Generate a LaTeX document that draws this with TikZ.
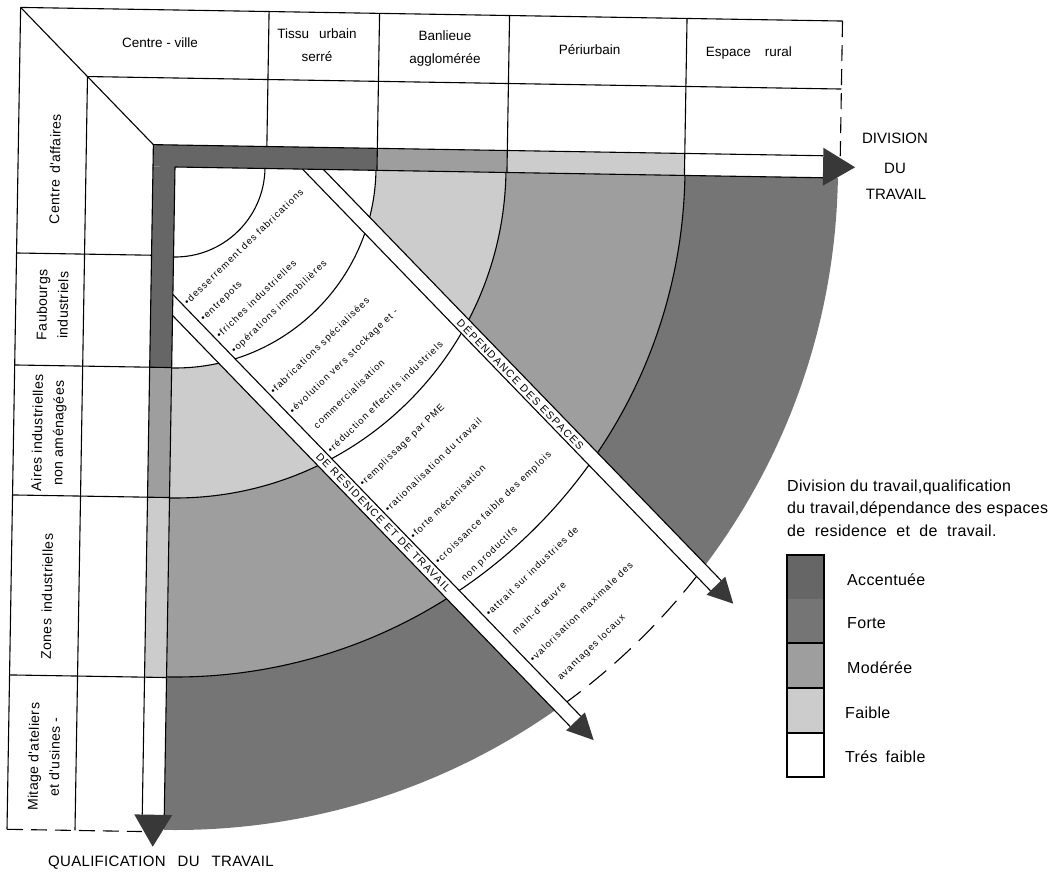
\documentclass[tikz,border=0pt]{standalone}
\usepackage{fontspec}
\setmainfont{Liberation Sans}
\newfontfamily\sidefont[LetterSpace=3]{Liberation Sans}
\newfontfamily\bulfont[LetterSpace=12]{Liberation Sans}
\newfontfamily\capfont[LetterSpace=14]{Liberation Sans}
\newfontfamily\lgfont[LetterSpace=2]{Liberation Sans}
\definecolor{acc}{gray}{0.40}
\definecolor{frt}{gray}{0.46}
\definecolor{mod}{gray}{0.62}
\definecolor{fai}{gray}{0.80}
\definecolor{arr}{gray}{0.22}
\begin{document}
\begin{tikzpicture}[x=1pt,y=-1pt,
  ln/.style={line width=1.1pt},
  dfr/.style={line width=1.1pt,dash pattern=on 16pt off 8pt},
  hdr/.style={font=\fontsize{13.5}{23}\selectfont,inner sep=0pt,align=center},
  sidelbl/.style={font=\sidefont\fontsize{14}{21}\selectfont,inner sep=0pt,align=center,rotate=89.05},
  bul/.style={font=\bulfont\fontsize{9.5}{11}\selectfont,inner sep=0pt,anchor=west,rotate=44.05},
  striplbl/.style={font=\capfont\fontsize{10.5}{12}\selectfont,inner sep=0pt,rotate=-45.95},
  outlbl/.style={font=\fontsize{15}{17}\selectfont,inner sep=0pt},
  lg/.style={font=\lgfont\fontsize{16}{18}\selectfont,inner sep=0pt,anchor=west},
  arrowfill/.style={fill=arr}
]
\useasboundingbox (0,0) rectangle (1051,875);
\fill[white] (0,0) rectangle (1051,875);

\begin{scope}[shift={(175,167)},rotate=-0.95]
  % upper side rings
  \begin{scope}
    \clip (148.5,0) -- (950,0) -- (950,801.5) -- cycle;
    \fill[frt] (0,0) circle[radius=663];
    \fill[mod] (0,0) circle[radius=510];
    \fill[fai] (0,0) circle[radius=331];
    \fill[white] (0,0) circle[radius=201];
    \draw[ln] (0,0) circle[radius=201] (0,0) circle[radius=331] (0,0) circle[radius=510];
  \end{scope}
  % lower side rings
  \begin{scope}
    \clip (0,148.5) -- (0,950) -- (801.5,950) -- cycle;
    \fill[frt] (0,0) circle[radius=663];
    \fill[mod] (0,0) circle[radius=510];
    \fill[fai] (0,0) circle[radius=331];
    \fill[white] (0,0) circle[radius=201];
    \draw[ln] (0,0) circle[radius=201] (0,0) circle[radius=331] (0,0) circle[radius=510];
  \end{scope}
  % between the strips
  \begin{scope}
    \clip (0,0) -- (127.5,0) -- (1100,972.5) -- (972.5,1100) -- (0,127.5) -- cycle;
    \draw[ln] (0,0) circle[radius=90] (0,0) circle[radius=201] (0,0) circle[radius=331] (0,0) circle[radius=510];
    \draw[ln,dash pattern=on 22pt off 11pt] (0,0) circle[radius=663];
  \end{scope}
  % bands
  \fill[acc] (-22,-22) rectangle (202,0);
  \fill[mod] (202,-22) rectangle (332,0);
  \fill[fai] (332,-22) rectangle (509.5,0);
  \fill[acc] (-22,0) rectangle (0,200.6);
  \fill[mod] (-22,200.6) rectangle (0,330.6);
  \fill[fai] (-22,330.6) rectangle (0,510.6);
  \draw[ln] (-22,-22) -- (648,-22);
  \draw[ln] (0,0) -- (648,0);
  \draw[ln] (-22,-22) -- (-22,648);
  \draw[ln] (0,0) -- (0,648);
  % frame
  \draw[ln] (-157,-157) -- (665,-157);
  \draw[ln] (-157,-157) -- (-157,665);
  \draw[ln] (-157,-157) -- (-22,-22);
  \draw[ln] (-89,-89) -- (665,-89);
  \draw[ln] (-89,-89) -- (-89,665);
  \draw[dfr] (665,-157) -- (665,-22);
  \draw[dfr] (-157,665) -- (-22,665);
  \draw[ln] (91.5,-157) -- (91.5,-22);
  \draw[ln] (202,-157) -- (202,0);
  \draw[ln] (332,-157) -- (332,0);
  \draw[ln] (509.5,-157) -- (509.5,0);
  \draw[ln] (-157,88.6) -- (-22,88.6);
  \draw[ln] (-157,200.6) -- (0,200.6);
  \draw[ln] (-157,330.6) -- (0,330.6);
  \draw[ln] (-157,510.6) -- (0,510.6);
  % band arrowheads
  \fill[arrowfill] (648,-30) -- (680,-11) -- (648,8) -- cycle;
  \fill[arrowfill] (-30,648) -- (-11,680) -- (8,648) -- cycle;
  % headers
  \node[hdr] (h1) at (-17,-124) {Centre - ville};
  \node[hdr] (h2) at (140,-124) {Tissu\hspace{10pt}urbain\\serré};
  \node[hdr] (h3) at (268,-123) {Banlieue\\agglomérée};
  \node[hdr] (h4) at (412.6,-124) {Périurbain};
  \node[hdr] (h5) at (572,-123.4) {Espace\hspace{14pt}rural};
  \node[sidelbl] (s1) at (-120,4) {Centre\hspace{6pt}d'affaires};
  \node[sidelbl] (s2) at (-120.2,140) {Faubourgs\\industriels};
  \node[sidelbl] (s3) at (-121.5,268) {Aires industrielles\\non aménagées};
  \node[sidelbl] (s4) at (-120.9,431.6) {Zones\hspace{6pt}industrielles};
  \node[sidelbl] (s5) at (-121.2,592) {Mitage d'ateliers\\et d'usines -};
  % diagonal strips
  \begin{scope}[rotate=-45]
    \draw[ln] (105,-105) -- (677,-105);
    \draw[ln] (90.2,-90.2) -- (677,-90.2);
    \draw[ln] (90.2,90.2) -- (677,90.2);
    \draw[ln] (105,105) -- (677,105);
    \fill[arrowfill] (677,-110.6) -- (702,-97.6) -- (677,-84.6) -- cycle;
    \fill[arrowfill] (677,84.6) -- (703,97.6) -- (677,110.6) -- cycle;
    \node[striplbl] (c1) at (396.6,-97.8) {DÉPENDANCE DES ESPACES};
    \node[striplbl] (c2) at (400.5,97.3) {DE RESIDENCE ET DE TRAVAIL};
    \node[bul] (b1) at (105,87) {•desserrement des fabrications};
    \node[bul] (b2) at (129.5,87) {•entrepots};
    \node[bul] (b3) at (151.3,87) {•friches industrielles};
    \node[bul] (b4) at (173.3,87) {•opérations immobilières};
    \node[bul] (b5) at (229.7,87) {•fabrications spécialisées};
    \node[bul] (b6) at (257.3,87) {•évolution vers stockage et -};
    \node[bul] (b7) at (284,80) {commercialisation};
    \node[bul] (b8) at (311.2,87) {•réduction effectifs industriels};
    \node[bul] (b9) at (358.3,87) {•remplissage par PME};
    \node[bul] (b10) at (393.6,87) {•rationalisation du travail};
    \node[bul] (b11) at (430.2,87) {•forte mécanisation};
    \node[bul] (b12) at (466.8,87) {•croissance faible des emplois};
    \node[bul] (b13) at (497.1,80) {non productifs};
    \node[bul] (b14) at (538.7,87) {•attrait sur industries de};
    \node[bul] (b15) at (570.4,81) {main-d'œuvre};
    \node[bul] (b16) at (602.2,87) {•valorisation maximale des};
    \node[bul] (b17) at (635.2,80) {avantages locaux};
  \end{scope}
\end{scope}

% outer labels
\node[outlbl] (d1) at (895,138) {DIVISION};
\node[outlbl] (d2) at (895,168) {DU};
\node[outlbl] (d3) at (896,194) {TRAVAIL};
\node[outlbl,font=\lgfont\fontsize{15}{17}\selectfont] (q1) at (161,863) {QUALIFICATION\hspace{12pt}DU\hspace{12pt}TRAVAIL};

% legend
\node[lg] (lt1) at (787,487) {Division du travail,qualification};
\node[lg] (lt2) at (787,509) {du travail,dépendance des espaces};
\node[lg] (lt3) at (787,531) {de\ \ residence\ \ et\ \ de\ \ travail.};
\fill[acc] (787,555) rectangle (824,599);
\fill[frt] (787,599) rectangle (824,643);
\fill[mod] (787,643) rectangle (824,688);
\fill[fai] (787,688) rectangle (824,733);
\draw[ln] (787,555) rectangle (824,777);
\draw[ln] (787,643) -- (824,643) (787,688) -- (824,688) (787,733) -- (824,733);
\node[lg] (l1) at (847,580) {Accentuée};
\node[lg] (l2) at (847,623) {Forte};
\node[lg] (l3) at (847,668) {Modérée};
\node[lg] (l4) at (845,713) {Faible};
\node[lg] (l5) at (845,757) {Trés\hspace{8pt}faible};
\end{tikzpicture}
\end{document}
